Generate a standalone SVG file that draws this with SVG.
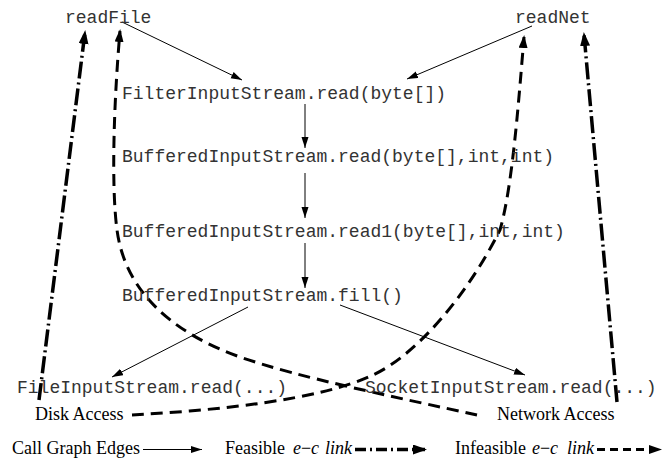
<svg xmlns="http://www.w3.org/2000/svg" width="663" height="459" viewBox="0 0 663 459">
<style>
.mono{font-family:"Liberation Mono","Courier New",monospace;font-size:18px;fill:#333}
.serif{font-family:"Liberation Serif","Times New Roman",serif;font-size:18px;fill:#000}
.it{font-style:italic}
.call{stroke:#000;stroke-width:1;fill:none;marker-end:url(#ah)}
.feas{stroke:#000;stroke-width:3.5;fill:none;stroke-dasharray:17 4 2 4;marker-end:url(#ahF)}
.infeas{stroke:#000;stroke-width:3;fill:none;stroke-dasharray:12 7;marker-end:url(#ahI)}
</style>
<defs>
<marker id="ah" markerUnits="userSpaceOnUse" markerWidth="12" markerHeight="8" refX="11" refY="3.5" orient="auto"><path d="M0,0 L11,3.5 L0,7 z" fill="#000"/></marker>
<marker id="ahF" markerUnits="userSpaceOnUse" markerWidth="16" markerHeight="11" refX="12" refY="5" orient="auto"><path d="M0,0 L14,5 L0,10 z" fill="#000"/></marker>
<marker id="ahI" markerUnits="userSpaceOnUse" markerWidth="15" markerHeight="10" refX="11" refY="4.5" orient="auto"><path d="M0,0 L13,4.5 L0,9 z" fill="#000"/></marker>
</defs>
<rect width="663" height="459" fill="#fff"/>
<g id="connectors">
<path class="call" d="M122,22 L242,80"/>
<path class="call" d="M532,26 L407,79"/>
<path class="call" d="M305,104 L305,148"/>
<path class="call" d="M305,173 L305,218"/>
<path class="call" d="M305,243 L305,288"/>
<path class="call" d="M248,307 L112,377"/>
<path class="call" d="M340,305 L525,375"/>
<path class="feas" d="M39,400 L85,32"/>
<path class="feas" d="M617,402 L584,34"/>
<path class="infeas" d="M477,415 C400,398 300,378 240,357 C170,332 125,290 117,230 C111,185 114,100 120,31"/>
<path class="infeas" d="M132,415 C220,410 320,400 373,375 C420,353 470,290 500,230 C512,188 518,110 524,37"/>
</g>
<g id="readFile"><text class="mono" x="65" y="23">readFile</text></g>
<g id="readNet"><text class="mono" x="515" y="23">readNet</text></g>
<g id="filterRead"><text class="mono" x="122" y="98.5">FilterInputStream.read(byte[])</text></g>
<g id="bufRead"><text class="mono" x="122" y="161.5">BufferedInputStream.read(byte[],int,int)</text></g>
<g id="bufRead1"><text class="mono" x="122" y="236.5">BufferedInputStream.read1(byte[],int,int)</text></g>
<g id="bufFill"><text class="mono" x="122" y="300.5">BufferedInputStream.fill()</text></g>
<g id="fileRead"><text class="mono" x="17" y="392.5">FileInputStream.read(...)</text></g>
<g id="socketRead"><text class="mono" x="365" y="392.5">SocketInputStream.read(...)</text></g>
<g id="diskAccess"><text class="serif" x="35" y="420">Disk Access</text></g>
<g id="networkAccess"><text class="serif" x="497" y="420">Network Access</text></g>
<g id="legend">
<text class="serif" x="12" y="454">Call Graph Edges</text>
<path class="call" d="M143,449.5 L202,449.5"/>
<text class="serif" y="454"><tspan x="225">Feasible</tspan><tspan class="it" x="293">e</tspan><tspan x="301">−</tspan><tspan class="it" x="311">c</tspan><tspan class="it" x="325">link</tspan></text>
<path class="feas" style="stroke-dasharray:11 4 2 4" d="M355,449.5 L425,449.5"/>
<text class="serif" y="454"><tspan x="455">Infeasible</tspan><tspan class="it" x="532">e</tspan><tspan x="540">−</tspan><tspan class="it" x="550">c</tspan><tspan class="it" x="567">link</tspan></text>
<path class="infeas" style="stroke-dasharray:8 5" d="M597,449.5 L660,449.5"/>
</g>
</svg>
